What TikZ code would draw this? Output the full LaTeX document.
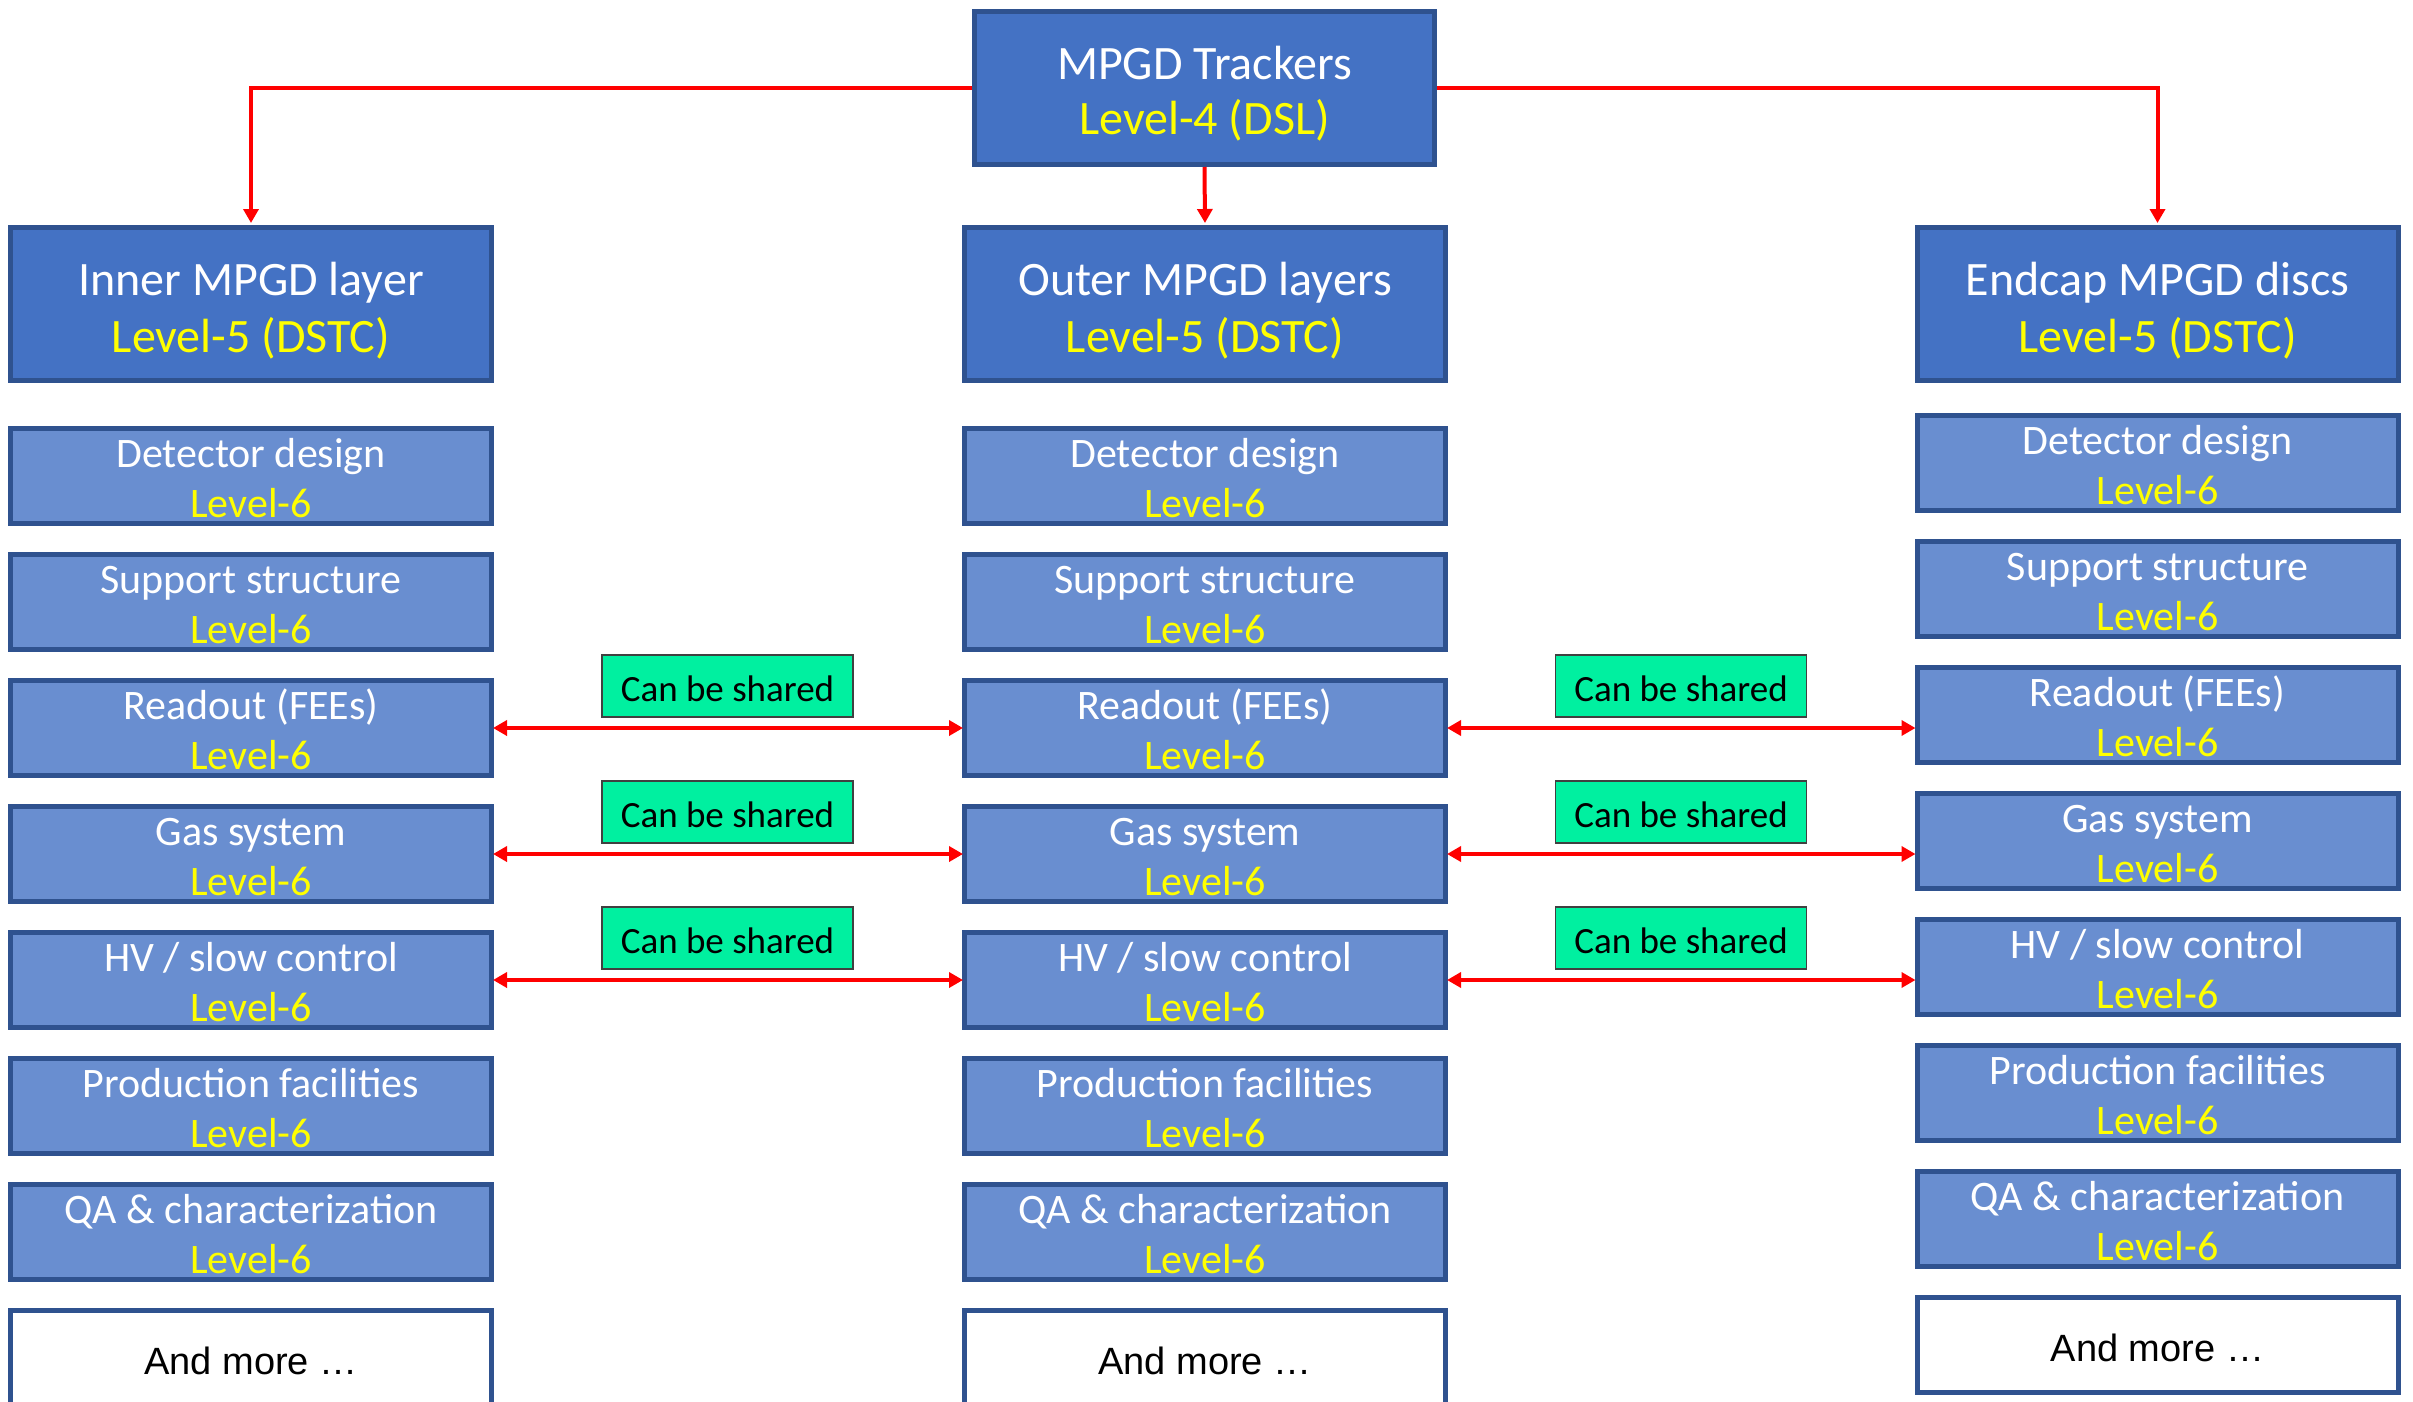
\documentclass[tikz,border=0pt]{standalone}
\usepackage{fontspec}
\setmainfont{Carlito}
\newfontfamily\arialf{Liberation Sans}
\usetikzlibrary{arrows.meta}
\definecolor{lvfive}{HTML}{4472C4}
\definecolor{lvsix}{HTML}{698ED0}
\definecolor{bord}{HTML}{2F528F}
\definecolor{shgreen}{HTML}{00F0A0}
\definecolor{lvyellow}{HTML}{FFFF00}
\definecolor{arrred}{HTML}{FF0000}
\tikzset{
  boxfive/.style={draw=bord, fill=lvfive, line width=5pt, minimum width=481pt, minimum height=153pt, inner sep=0pt},
  boxtop/.style={draw=bord, fill=lvfive, line width=5pt, minimum width=460pt, minimum height=153pt, inner sep=0pt},
  boxsix/.style={draw=bord, fill=lvsix, line width=5pt, minimum width=481pt, minimum height=95pt, inner sep=0pt},
  boxmore/.style={draw=bord, fill=white, line width=5pt, minimum width=481pt, minimum height=95pt, inner sep=0pt},
  sharebox/.style={draw=black!75, fill=shgreen, line width=1.5pt, minimum width=251pt, minimum height=62pt, inner sep=0pt},
  ttlbig/.style={text=white, font=\fontsize{48}{58}\selectfont, anchor=base, inner sep=0pt},
  lvlbig/.style={text=lvyellow, font=\fontsize{48}{58}\selectfont, anchor=base, inner sep=0pt},
  ttlsix/.style={text=white, font=\fontsize{42}{50}\selectfont, anchor=base, inner sep=0pt},
  lvlsix/.style={text=lvyellow, font=\fontsize{42}{50}\selectfont, anchor=base, inner sep=0pt},
  sharetxt/.style={text=black, font=\fontsize{37}{44}\selectfont, anchor=base, inner sep=0pt},
  moretxt/.style={text=black, font=\arialf\fontsize{38}{45}\selectfont, anchor=base, inner sep=0pt},
  conn/.style={draw=arrred, line width=4pt},
  tip/.style={-{Triangle[length=14pt,width=15pt]}},
  dtip/.style={{Triangle[length=14pt,width=15pt]}-{Triangle[length=14pt,width=15pt]}},
}
\newcommand\sixbox[4]{%
  \node[boxsix] (#1) at (#2,#3+50) {};
  \node[ttlsix] (#1t) at ([yshift=9pt]#1.center) {#4};
  \node[lvlsix] (#1l) at ([yshift=-41pt]#1.center) {Level-6};
}
\newcommand\colboxes[3]{% prefix, x, top of first row
  \sixbox{#1a}{#2}{#3}{Detector design}
  \sixbox{#1b}{#2}{#3+126}{Support structure}
  \sixbox{#1c}{#2}{#3+252}{Readout (FEEs)}
  \sixbox{#1d}{#2}{#3+378}{Gas system}
  \sixbox{#1e}{#2}{#3+504}{HV / slow control}
  \sixbox{#1f}{#2}{#3+630}{Production facilities}
  \sixbox{#1g}{#2}{#3+756}{QA \& characterization}
  \node[boxmore] (#1h) at (#2,#3+932) {};
  \node[moretxt] (#1ht) at ([yshift=-16pt]#1h.center) {And more …};
}
\newcommand\shared[3]{%
  \node[sharebox] (#1) at (#2,#3) {};
  \node[sharetxt] (#1t) at ([yshift=-15pt]#1.center) {Can be shared};
}
\begin{document}
\begin{tikzpicture}[x=1pt,y=-1pt]
\useasboundingbox[fill=white] (0,0) rectangle (2413,1402);
% top
\node[boxtop] (top) at (1204.5,88) {};
\node[ttlbig] (topt) at ([yshift=8pt]top.center) {MPGD Trackers};
\node[lvlbig] (topl) at ([yshift=-47pt]top.center) {Level-4 (DSL)};
% level 5
\node[boxfive] (inner) at (251,304) {};
\node[ttlbig] (innert) at ([yshift=9pt]inner.center) {Inner MPGD layer};
\node[lvlbig] (innerl) at ([yshift=-48pt]inner.center) {Level-5 (DSTC)};
\node[boxfive] (outer) at (1205,304) {};
\node[ttlbig] (outert) at ([yshift=9pt]outer.center) {Outer MPGD layers};
\node[lvlbig] (outerl) at ([yshift=-48pt]outer.center) {Level-5 (DSTC)};
\node[boxfive] (endc) at (2157.5,304) {};
\node[ttlbig] (endct) at ([yshift=9pt]endc.center) {Endcap MPGD discs};
\node[lvlbig] (endcl) at ([yshift=-48pt]endc.center) {Level-5 (DSTC)};
% level 6 columns
\colboxes{i}{251}{426}
\colboxes{o}{1205}{426}
\colboxes{e}{2157.5}{413}
% shared labels
\shared{sl1}{727.5}{686}
\shared{sl2}{727.5}{812}
\shared{sl3}{727.5}{938}
\shared{sr1}{1681}{686}
\shared{sr2}{1681}{812}
\shared{sr3}{1681}{938}
% connectors
\draw[conn,tip,shorten >=2pt] (top.west) -| (inner.north);
\draw[conn,tip,shorten >=2pt] (top.south) -- (outer.north);
\draw[conn,tip,shorten >=2pt] (top.east) -| (endc.north);
\foreach \r in {c,d,e}{
  \draw[conn,dtip,shorten <=-1pt,shorten >=-1pt] (i\r.east) -- (o\r.west);
  \draw[conn,dtip,shorten <=-1pt,shorten >=-1pt] (o\r.east) -- (o\r.east -| e\r.west);
}
\end{tikzpicture}
\end{document}
